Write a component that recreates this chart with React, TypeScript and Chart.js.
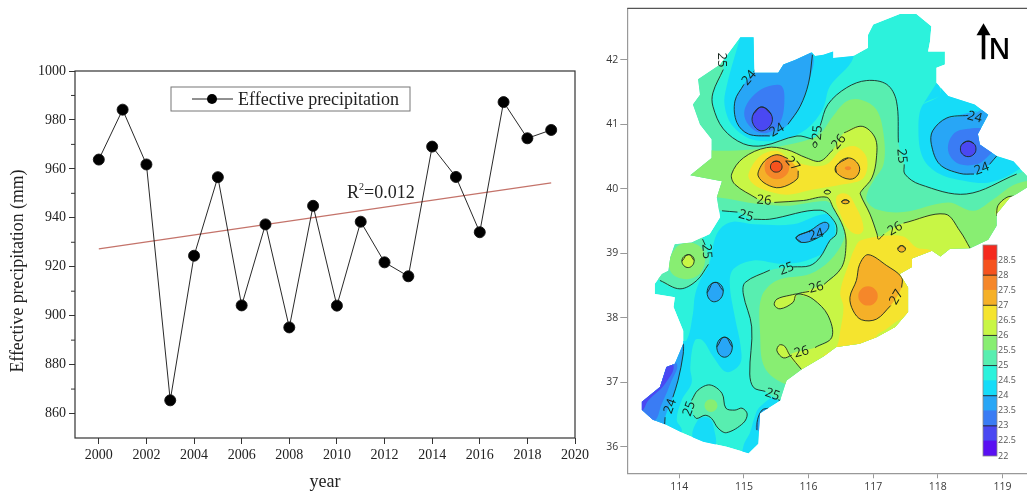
import React, { useEffect, useRef } from "react";
import { Chart, registerables } from "chart.js";

Chart.register(...registerables);

type P = [number, number];

const SERIF = '"Liberation Serif", serif';
const SANS = '"Open Sans", sans-serif';

// ---------- time series ----------
const years = [2000, 2001, 2002, 2003, 2004, 2005, 2006, 2007, 2008, 2009, 2010, 2011, 2012, 2013, 2014, 2015, 2016, 2017, 2018, 2019];
const precipitation = [963.8, 984.2, 961.8, 865.4, 924.5, 956.6, 904.2, 937.3, 895.2, 944.9, 904.1, 938.4, 921.8, 916.1, 969.1, 956.7, 934.1, 987.3, 972.5, 975.9];
const trendYears = [2000, 2019];
const trendValues = [927.3, 954.3];
const yearTicks = [2000, 2002, 2004, 2006, 2008, 2010, 2012, 2014, 2016, 2018, 2020];
const precipTicks = [860, 880, 900, 920, 940, 960, 980, 1000];
const precipMinor = [870, 890, 910, 930, 950, 970, 990];

// ---------- map axes ----------
const lonTicks = [114, 115, 116, 117, 118, 119];
const latTicks = [36, 37, 38, 39, 40, 41, 42];

// ---------- colour scale ----------
const levels = [22, 22.5, 23, 23.5, 24, 24.5, 25, 25.5, 26, 26.5, 27, 27.5, 28, 28.5];
const levelColors = ["#5a10f2", "#4a48f2", "#3a7cf4", "#28a6f6", "#16dcf8", "#2cf2dc", "#58eeb0", "#88ee72", "#c8f645", "#f5e42e", "#f5b028", "#f5872a", "#f5521e", "#f52a1e"];
const contourLevels = [23, 24, 25, 26, 27, 28];

// ---------- region boundary (lon, lat) ----------
const outline: P[] = [[114.94,42.35],[115.15,42.35],[115.16,41.80],[115.53,41.80],[115.61,41.93],[115.79,42.00],[116.05,42.12],[116.10,42.06],[116.23,42.08],[116.38,42.13],[116.38,42.03],[116.69,42.06],[116.92,42.19],[116.92,42.39],[117.00,42.55],[117.41,42.71],[117.67,42.71],[117.90,42.52],[117.88,42.29],[117.85,42.13],[118.11,42.13],[118.11,41.93],[117.98,41.88],[117.98,41.64],[118.16,41.44],[118.57,41.31],[118.78,41.15],[118.62,40.85],[118.65,40.69],[118.91,40.51],[119.17,40.43],[119.38,40.20],[119.38,40.02],[119.22,39.92],[119.12,39.87],[118.91,39.61],[118.91,39.43],[118.78,39.21],[118.50,39.08],[118.19,39.07],[118.04,38.95],[117.91,39.04],[117.78,38.99],[117.60,38.92],[117.60,38.79],[117.41,38.68],[117.54,38.47],[117.54,38.09],[117.34,37.86],[117.05,37.70],[116.79,37.60],[116.43,37.55],[116.23,37.40],[115.89,37.20],[115.66,37.03],[115.56,36.72],[115.25,36.52],[115.22,36.05],[115.07,35.90],[114.73,36.0],[114.37,36.08],[114.06,36.21],[113.78,36.35],[113.59,36.42],[113.42,36.57],[113.42,36.70],[113.70,36.93],[113.80,37.24],[113.93,37.29],[114.06,37.60],[114.06,37.80],[113.91,38.17],[113.93,38.32],[113.62,38.37],[113.62,38.53],[113.73,38.68],[113.83,38.73],[113.86,38.94],[113.93,39.14],[114.19,39.17],[114.47,39.30],[114.63,39.56],[114.58,39.87],[114.66,40.12],[114.17,40.21],[114.50,40.48],[114.50,40.77],[114.32,41.0],[114.21,41.31],[114.32,41.46],[114.29,41.70],[114.63,41.93]];

// ---------- filled contour bands (lon, lat) ----------
const bandCyanNW: P[] = [[115.0,42.5],[114.94,42.34],[114.71,41.49],[114.71,41.24],[114.83,40.97],[115.145,40.76],[115.61,40.77],[115.97,40.93],[116.22,41.24],[116.33,41.59],[116.69,42.03],[116.59,42.39],[115.66,42.60]];
const bandCyanNE: P[] = [[118.03,41.46],[117.77,41.31],[117.70,40.95],[117.77,40.48],[118.03,40.23],[118.44,40.12],[118.80,40.10],[119.22,40.28],[119.52,40.59],[119.27,41.36],[118.50,41.72],[118.03,41.72]];
const bandCyanMid: P[] = [[114.78,39.48],[115.15,39.45],[115.76,39.45],[116.28,39.61],[116.41,39.40],[116.33,39.09],[115.97,38.89],[115.56,38.84],[115.15,38.89],[114.84,38.76],[114.78,38.53],[114.86,38.01],[114.95,37.55],[114.94,37.29],[114.73,37.16],[114.53,37.39],[114.36,37.65],[114.24,37.65],[114.17,37.24],[114.19,36.99],[114.04,36.73],[113.96,36.42],[114.04,36.25],[113.9,36.0],[113.50,36.10],[113.60,37.13],[113.96,37.65],[114.11,37.65],[114.21,38.06],[114.24,38.34],[114.32,38.58],[114.46,38.83],[114.58,39.30]];
const bandCyanS: P[] = [[114.99,36.0],[115.09,36.21],[115.17,36.47],[115.25,36.62],[115.51,36.77],[115.76,36.51],[115.56,35.85],[115.0,35.79]];
const bandCyanPocket: P[] = [[114.22,36.11],[114.29,36.42],[114.45,36.45],[114.53,36.31],[114.54,36.0]];

const c24NWa: P[] = [[116.06,42.08],[116.0,41.64],[115.87,41.28],[115.68,41.0]];
const c24NWb: P[] = [[115.40,40.82],[115.07,40.85],[114.89,41.03],[114.86,41.36],[115.0,41.62]];
const c24NWc: P[] = [[115.15,41.81],[115.2,41.9]];
const bandBlueNW: P[] = [...c24NWa, ...c24NWb, [115.15,41.81],[115.30,41.93],[115.66,42.29]];
const band23NW: P[] = [[115.585,41.59],[115.625,41.335],[115.56,41.03],[115.37,40.87],[115.17,40.90],[115.02,41.08],[115.02,41.26],[115.17,41.47],[115.38,41.59]];
const c23NW: P[] = [[115.275,41.27],[115.42,41.16],[115.42,41.0],[115.275,40.90],[115.145,41.0],[115.145,41.16]];

const c24NEa: P[] = [[118.47,41.14],[118.14,41.10],[117.92,40.90],[117.90,40.69],[118.03,40.38],[118.34,40.24],[118.56,40.23]];
const c24NEb: P[] = [[118.80,40.38],[118.92,40.52]];
const bandBlueNE: P[] = [...c24NEa, ...c24NEb, [119.27,40.74],[119.01,41.15],[118.70,41.23]];
const band23NE: P[] = [[118.44,40.93],[118.26,40.87],[118.16,40.69],[118.19,40.51],[118.34,40.38],[118.60,40.38],[118.75,40.48],[118.91,40.69],[118.75,40.92]];
const c23NE: P[] = [[118.47,40.74],[118.56,40.70],[118.59,40.62],[118.56,40.54],[118.47,40.50],[118.38,40.54],[118.35,40.62],[118.38,40.70]];

const c24Bar: P[] = [[115.81,39.25],[116.02,39.35],[116.23,39.48],[116.31,39.45],[116.28,39.35],[116.10,39.22],[115.89,39.17]];
const c24OvalA: P[] = [[114.55,38.55],[114.68,38.42],[114.55,38.25],[114.43,38.39]];
const c24OvalB: P[] = [[114.70,37.70],[114.82,37.55],[114.70,37.39],[114.58,37.55]];
const c24SWa: P[] = [[114.06,37.60],[114.06,37.44],[113.98,37.03],[113.90,36.77]];
const c24SWb: P[] = [[113.78,36.46],[113.77,36.32]];
const bandBlueSW: P[] = [...c24SWa, ...c24SWb, [113.39,36.31],[113.29,36.88],[113.75,37.65]];
const band23SW: P[] = [[113.96,37.29],[113.86,36.98],[113.73,36.67],[113.60,36.39],[113.34,36.41],[113.29,36.82],[113.70,37.34]];
const band225SW: P[] = [[113.91,37.26],[113.78,36.98],[113.52,36.72],[113.42,36.57],[113.29,36.72],[113.70,37.29]];
const c24South: P[] = [[115.20,36.26],[115.21,36.42],[115.28,36.57],[115.38,36.60]];
const bandBlueSouth: P[] = [...c24South, [115.6,36.57],[115.5,36.2]];

const c25a: P[] = [[114.68,41.85],[114.52,41.49],[114.52,41.28],[114.68,40.93],[114.99,40.70],[115.30,40.67],[115.82,40.82],[116.07,40.77]];
const c25b: P[] = [[116.18,40.98],[116.30,41.31],[116.59,41.57],[116.90,41.68],[117.21,41.62],[117.36,41.36],[117.39,40.72]];
const c25c: P[] = [[117.48,40.38],[117.49,40.23],[117.72,40.07],[118.44,39.92],[119.22,40.23]];
const c25d: P[] = [[114.66,39.66],[114.90,39.64]];
const c25e: P[] = [[115.15,39.53],[115.40,39.53],[116.18,39.67],[116.41,39.48],[116.43,39.30],[116.33,39.20],[116.18,38.94],[116.02,38.81],[115.76,38.79]];
const c25f: P[] = [[115.40,38.74],[115.02,38.55],[114.99,38.37],[115.12,37.86],[115.09,37.13],[115.15,36.92],[115.33,36.86]];
const c25g: P[] = [[115.53,36.73],[115.56,36.72]];
const band25: P[] = [[114.60,42.29], ...c25a, ...c25b, ...c25c, [119.78,40.33],[119.78,38.99],[119.78,35.59],[115.56,35.59], [...c25g[1]] as P, [...c25g[0]] as P, ...[...c25f].reverse(), ...[...c25e].reverse(), [115.03,39.58], ...[...c25d].reverse(), [114.11,39.71],[113.60,40.33],[113.60,41.88]];

const c25Wa: P[] = [[113.70,38.58],[114.01,38.45],[114.27,38.58],[114.45,38.83]];
const c25Wb: P[] = [[114.40,39.13],[114.36,39.22]];
const band25W: P[] = [...c25Wa, [114.44,39.0],[114.36,39.22],[114.3,39.6],[113.6,39.5],[113.3,38.9]];
const band255W: P[] = [[114.14,39.17],[114.37,39.04],[114.35,38.73],[114.11,38.60],[113.86,38.73],[113.91,39.04]];
const c26W: P[] = [[114.14,38.98],[114.23,38.89],[114.14,38.78],[114.04,38.88]];

const c25SW: P[] = [[114.19,36.72],[114.29,36.88],[114.475,36.96],[114.66,36.83],[114.72,36.60],[114.86,36.57],[114.97,36.60],[115.05,36.51],[114.99,36.37],[114.73,36.22],[114.60,36.29],[114.50,36.44],[114.40,36.49],[114.27,36.44],[114.22,36.49]];
const spot255SW: P[] = [[114.49,36.74],[114.59,36.64],[114.49,36.54],[114.39,36.64]];
const spotTeal: P[] = [[118.81,39.51],[118.90,39.43],[118.81,39.35],[118.72,39.43]];

const band255: P[] = [[113.86,40.59],[114.63,40.59],[115.15,40.61],[115.56,40.66],[116.02,40.77],[116.18,40.85],[116.38,41.13],[116.59,41.36],[116.82,41.38],[117.05,41.23],[117.16,40.85],[117.16,40.38],[117.0,40.12],[116.92,39.97],[116.90,39.82],[117.06,39.68],[117.47,39.64],[118.16,39.79],[118.55,39.66],[118.86,39.84],[119.22,40.08],[119.6,40.08],[119.6,39.2],[117.72,37.65],[115.89,37.03],[115.63,36.98],[115.32,37.23],[115.25,37.75],[115.27,38.32],[115.51,38.58],[116.02,38.68],[116.33,38.89],[116.54,39.20],[116.54,39.40],[116.38,39.71],[116.28,39.81],[115.71,39.74],[115.25,39.76],[114.58,39.87],[113.86,39.92]];

const c26a: P[] = [[115.47,39.79],[115.92,39.82],[116.28,39.87],[116.38,39.71],[116.54,39.40],[116.58,39.14],[116.51,38.78],[116.24,38.52]];
const c26b: P[] = [[116.01,38.41],[115.81,38.36],[115.76,38.24],[115.56,38.14],[115.47,38.20],[115.51,38.29],[115.71,38.35],[115.87,38.37],[116.07,38.29],[116.30,38.04],[116.36,37.70],[116.10,37.54]];
const c26c: P[] = [[115.74,37.42],[115.61,37.38],[115.51,37.49],[115.55,37.58],[115.63,37.56],[115.71,37.42],[115.89,37.20]];
const c26d: P[] = [[115.20,39.85],[114.86,40.07],[114.81,40.23],[114.99,40.48],[115.35,40.64],[115.66,40.61],[115.97,40.48],[116.18,40.43],[116.38,40.61]];
const c26e: P[] = [[116.55,40.87],[116.83,40.97],[117.03,40.79],[117.05,40.48],[116.98,40.17],[116.82,39.97],[116.80,39.92],[116.95,39.61],[117.06,39.30],[117.08,39.22],[117.17,39.30]];
const c26f: P[] = [[117.47,39.47],[118.11,39.61],[118.34,39.35],[118.50,39.08]];
const c26g: P[] = [[118.91,39.58],[118.93,39.74],[119.07,39.87],[119.2,39.89]];
const band26: P[] = [...c26d, ...c26e, ...c26f, [118.55,38.78],[117.72,37.65],[115.97,37.03],[115.89,37.20],[115.71,37.42],[116.10,37.54],[116.36,37.70],[116.30,38.04],[116.07,38.29],[115.87,38.37],[116.24,38.52],[116.51,38.78],[116.58,39.14],[116.54,39.40],[116.38,39.71],[116.28,39.87],[115.92,39.82],[115.47,39.79]];
const band26LoopA: P[] = [[115.81,38.36],[115.76,38.24],[115.56,38.14],[115.47,38.20],[115.51,38.29],[115.71,38.35]];
const band26LoopB: P[] = [[115.51,37.49],[115.55,37.58],[115.63,37.56],[115.71,37.42],[115.61,37.38]];
const band26E: P[] = [...c26g, [119.6,39.9],[119.3,39.2]];
const band26Patch: P[] = [[117.05,37.71],[117.21,37.83],[117.39,37.96],[117.52,38.01],[117.36,37.70],[117.16,37.65]];
const ringA: P[] = [[116.10,40.73],[116.13,40.69],[116.10,40.64],[116.07,40.69]];
const ringB: P[] = [[116.29,39.98],[116.34,39.95],[116.29,39.92],[116.24,39.95]];

const band265N: P[] = [[115.07,40.23],[115.25,40.51],[115.51,40.59],[115.71,40.46],[116.02,40.36],[116.28,40.38],[116.51,40.61],[116.72,40.66],[116.90,40.48],[116.85,40.17],[116.54,40.07],[116.07,39.99],[115.66,39.91],[115.30,39.99],[115.12,40.10]];
const band265Stripe: P[] = [[116.43,39.87],[116.59,39.92],[116.74,39.71],[116.85,39.40],[116.79,39.30],[116.64,39.35],[116.49,39.61]];
const band265SE: P[] = [[116.72,39.09],[116.80,39.20],[117.16,39.27],[117.47,39.26],[117.67,39.09],[117.91,39.04],[118.05,38.85],[117.72,37.65],[117.10,37.49],[116.38,37.42],[116.23,37.42],[116.43,37.55],[116.49,37.80],[116.54,38.16],[116.49,38.40],[116.64,38.89]];

const c27Na: P[] = [[115.84,40.28],[115.82,40.15],[115.56,40.02],[115.35,40.07],[115.22,40.20],[115.25,40.33],[115.35,40.46],[115.51,40.53],[115.68,40.47]];
const band275N: P[] = [[115.51,40.53],[115.65,40.47],[115.70,40.34],[115.65,40.21],[115.51,40.15],[115.37,40.21],[115.32,40.34],[115.37,40.47]];
const c28N: P[] = [[115.50,40.43],[115.56,40.41],[115.59,40.34],[115.56,40.28],[115.50,40.26],[115.44,40.28],[115.41,40.34],[115.44,40.41]];
const c27B: P[] = [[116.43,40.36],[116.61,40.48],[116.77,40.38],[116.77,40.23],[116.64,40.15],[116.43,40.25]];
const spot275B: P[] = [[116.61,40.35],[116.66,40.32],[116.61,40.29],[116.56,40.32]];
const c27C: P[] = [[117.44,39.12],[117.50,39.07],[117.44,39.02],[117.38,39.07]];
const c27D: P[] = [[116.57,39.83],[116.63,39.80],[116.57,39.77],[116.51,39.80]];
const c27SEa: P[] = [[117.27,38.19],[117.05,37.98],[116.82,37.97],[116.69,38.11],[116.64,38.32],[116.74,38.58],[116.79,38.83],[116.92,38.98],[117.21,38.81],[117.44,38.63],[117.44,38.47]];
const band275SE: P[] = [[116.92,38.49],[117.03,38.44],[117.07,38.34],[117.03,38.24],[116.92,38.19],[116.81,38.24],[116.77,38.34],[116.81,38.44]];

const fills: [P[], number][] = [
  [bandCyanNW, 4], [bandCyanNE, 4], [bandCyanMid, 4], [bandCyanS, 4], [bandCyanPocket, 4],
  [bandBlueNW, 3], [band23NW, 2], [c23NW, 1],
  [bandBlueNE, 3], [band23NE, 2], [c23NE, 1],
  [c24Bar, 3], [c24OvalA, 3], [c24OvalB, 3],
  [bandBlueSW, 3], [band23SW, 2], [band225SW, 1], [bandBlueSouth, 3],
  [band25, 6], [spotTeal, 5],
  [band25W, 6], [band255W, 7], [c26W, 8],
  [c25SW, 6], [spot255SW, 7],
  [band255, 7], [band26, 8], [band26LoopA, 8], [band26LoopB, 8], [band26E, 8],
  [band265N, 9], [band265Stripe, 9], [band265SE, 9], [band26Patch, 8],
  [c27Na, 10], [band275N, 11], [c28N, 12],
  [c27B, 10], [spot275B, 11], [c27C, 10], [c27D, 10],
  [c27SEa, 10], [band275SE, 11],
];

const openLines: P[][] = [c24NWa, c24NWb, c24NWc, c24NEa, c24NEb, c24SWa, c24SWb, c24South, c25a, c25b, c25c, c25d, c25e, c25f, c25g, c25Wa, c25Wb, c25SW, c26a, c26b, c26c, c26d, c26e, c26f, c26g, c27Na, c27SEa];
const closedLines: P[][] = [c23NW, c23NE, c24Bar, c24OvalA, c24OvalB, c26W, c27B, c27C, c27D, c28N, ringA, ringB];

// text, lon, lat, rotation in degrees
const contourLabels: [string, number, number, number][] = [
  ["25",114.66,42.0,90],["24",115.08,41.72,-50],["24",115.51,40.91,-30],["25",116.14,40.87,-85],["26",116.47,40.73,-50],["27",115.75,40.39,50],["25",117.44,40.51,85],["24",118.57,41.11,15],["24",118.68,40.31,-20],["26",115.31,39.82,5],["25",115.03,39.58,15],["24",116.12,39.29,-15],["26",117.34,39.38,-30],["25",114.42,39.03,85],["25",115.66,38.76,-20],["26",116.12,38.47,-15],["27",117.36,38.32,-60],["26",115.89,37.47,-15],["25",115.44,36.81,20],["24",113.86,36.63,-70],["25",114.155,36.59,-70],
];

const toXY = (pts: P[]) => pts.map(([x, y]) => ({ x, y }));
// wrap the ring so the smoothed curve has no corner at its seam
const close = (pts: P[]): P[] => [pts[pts.length - 1], ...pts, pts[0], pts[1]];
// rings with few vertices need a stronger curve to read as ovals
const ringTension = (pts: P[]) => (pts.length <= 4 ? 0.55 : pts.length <= 8 ? 0.42 : 0.35);

const seriesPlugin = {
  id: "seriesFrame",
  afterDraw(chart: any) {
    const { ctx, chartArea: a, scales } = chart;
    ctx.save();
    ctx.strokeStyle = "#333";
    ctx.lineWidth = 1.2;
    ctx.strokeRect(a.left, a.top, a.right - a.left, a.bottom - a.top);
    ctx.lineWidth = 1;
    precipMinor.forEach((v) => {
      const y = scales.y.getPixelForValue(v);
      ctx.beginPath();
      ctx.moveTo(a.left, y);
      ctx.lineTo(a.left - 4, y);
      ctx.stroke();
    });
    // y axis title
    ctx.save();
    ctx.translate(18, 271);
    ctx.rotate(-Math.PI / 2);
    ctx.fillStyle = "#222";
    ctx.textAlign = "center";
    ctx.textBaseline = "middle";
    ctx.font = `17.8px ${SERIF}`;
    ctx.fillText("Effective precipitation (mm)", 0, 0);
    ctx.restore();
    // legend box
    ctx.fillStyle = "#fff";
    ctx.strokeStyle = "#777";
    ctx.fillRect(171, 87, 239, 24);
    ctx.strokeRect(171, 87, 239, 24);
    ctx.strokeStyle = "#222";
    ctx.beginPath();
    ctx.moveTo(192, 99);
    ctx.lineTo(233, 99);
    ctx.stroke();
    ctx.fillStyle = "#000";
    ctx.beginPath();
    ctx.arc(212, 99, 5, 0, Math.PI * 2);
    ctx.fill();
    ctx.fillStyle = "#222";
    ctx.textBaseline = "alphabetic";
    ctx.font = `18px ${SERIF}`;
    ctx.fillText(chart.data.datasets[0].label, 238, 105);
    // R squared
    ctx.fillText("R", 347, 198);
    ctx.fillText("=0.012", 364, 198);
    ctx.font = `10px ${SERIF}`;
    ctx.fillText("2", 359, 190);
    ctx.restore();
  },
};

const mapPlugin = {
  id: "mapClip",
  beforeDatasetsDraw(chart: any) {
    const { ctx, scales } = chart;
    ctx.save();
    ctx.beginPath();
    outline.forEach(([lon, lat], i) => {
      const x = scales.x.getPixelForValue(lon);
      const y = scales.y.getPixelForValue(lat);
      if (i === 0) ctx.moveTo(x, y);
      else ctx.lineTo(x, y);
    });
    ctx.closePath();
    ctx.clip();
  },
  afterDatasetsDraw(chart: any) {
    chart.ctx.restore();
  },
  afterDraw(chart: any) {
    const { ctx, chartArea: a, scales } = chart;
    ctx.save();
    ctx.strokeStyle = "#555";
    ctx.lineWidth = 1.2;
    ctx.beginPath();
    ctx.moveTo(a.left, a.top);
    ctx.lineTo(a.right, a.top);
    ctx.stroke();
    ctx.fillStyle = "#14221a";
    ctx.textAlign = "center";
    ctx.textBaseline = "middle";
    ctx.font = `13px ${SANS}`;
    contourLabels.forEach(([t, lon, lat, rot]) => {
      ctx.save();
      ctx.translate(scales.x.getPixelForValue(lon), scales.y.getPixelForValue(lat));
      ctx.rotate((rot * Math.PI) / 180);
      ctx.fillText(t, 0, 0);
      ctx.restore();
    });
    // north arrow
    const ax = a.right - 43.5;
    ctx.fillStyle = "#000";
    ctx.strokeStyle = "#000";
    ctx.lineWidth = 3.6;
    ctx.beginPath();
    ctx.moveTo(ax, a.top + 23);
    ctx.lineTo(ax, a.top + 51);
    ctx.stroke();
    ctx.beginPath();
    ctx.moveTo(ax, a.top + 15);
    ctx.lineTo(ax + 7, a.top + 27);
    ctx.lineTo(ax - 7, a.top + 27);
    ctx.closePath();
    ctx.fill();
    ctx.textAlign = "left";
    ctx.textBaseline = "alphabetic";
    ctx.font = `600 28px ${SANS}`;
    ctx.fillText("N", ax + 5, a.top + 51);
    ctx.restore();
  },
};

const barPlugin = {
  id: "barFrame",
  afterDatasetsDraw(chart: any) {
    const { ctx, chartArea: a, scales } = chart;
    ctx.save();
    ctx.strokeStyle = "#888";
    ctx.lineWidth = 0.8;
    ctx.strokeRect(a.left, a.top, a.right - a.left, a.bottom - a.top);
    ctx.strokeStyle = "#222";
    ctx.lineWidth = 0.9;
    contourLevels.forEach((v) => {
      const y = scales.y.getPixelForValue(v);
      ctx.beginPath();
      ctx.moveTo(a.left, y);
      ctx.lineTo(a.right, y);
      ctx.stroke();
    });
    ctx.restore();
  },
};

export default function App() {
  const seriesRef = useRef<HTMLCanvasElement>(null);
  const mapRef = useRef<HTMLCanvasElement>(null);
  const barRef = useRef<HTMLCanvasElement>(null);

  useEffect(() => {
    const base = { responsive: false, animation: false as const, events: [] as any[] };

    const series = new Chart(seriesRef.current!, {
      type: "scatter",
      data: {
        datasets: [
          {
            label: "Effective precipitation",
            data: years.map((x, i) => ({ x, y: precipitation[i] })),
            showLine: true,
            borderColor: "#111",
            borderWidth: 0.9,
            backgroundColor: "#000",
            pointRadius: 5.5,
            order: 0,
          },
          {
            label: "Trend",
            data: trendYears.map((x, i) => ({ x, y: trendValues[i] })),
            showLine: true,
            borderColor: "#c4736a",
            borderWidth: 1.2,
            pointRadius: 0,
            order: 1,
          },
        ],
      },
      options: {
        ...base,
        layout: { padding: { top: 71, right: 25, left: 0, bottom: 0 } },
        plugins: { legend: { display: false }, tooltip: { enabled: false } },
        scales: {
          x: {
            type: "linear",
            min: 1999,
            max: 2020,
            afterFit: (s: any) => { s.height = 58; },
            afterBuildTicks: (s: any) => { s.ticks = yearTicks.map((value) => ({ value })); },
            grid: { drawOnChartArea: false, tickLength: 6, tickColor: "#333" },
            border: { display: false },
            ticks: { color: "#222", maxRotation: 0, padding: 3, font: { family: SERIF, size: 14 }, callback: (v: any) => String(v) },
            title: { display: true, text: "year", color: "#222", font: { family: SERIF, size: 18 }, padding: { top: 0, bottom: 3 } },
          },
          y: {
            min: 850,
            max: 1000,
            afterFit: (s: any) => { s.width = 75; },
            afterBuildTicks: (s: any) => { s.ticks = precipTicks.map((value) => ({ value })); },
            grid: { drawOnChartArea: false, tickLength: 6, tickColor: "#333" },
            border: { display: false },
            ticks: { color: "#222", padding: 3, font: { family: SERIF, size: 14 }, callback: (v: any) => String(v) },
          },
        },
      },
      plugins: [seriesPlugin],
    } as any);

    const baseFill = {
      data: toXY([...outline, outline[0]]),
      showLine: true, fill: "shape", backgroundColor: levelColors[5], borderWidth: 0, pointRadius: 0, tension: 0, order: 0,
    };
    const fillSets = fills.map(([pts, level], i) => ({
      data: toXY(close(pts)),
      showLine: true, fill: "shape", backgroundColor: levelColors[level], borderWidth: 0, pointRadius: 0, tension: ringTension(pts), order: -1 - i,
    }));
    const openSets = openLines.map((pts, i) => ({
      data: toXY(pts),
      showLine: true, fill: false, borderColor: "#1a2a22", borderWidth: 0.9, pointRadius: 0, tension: 0.35, order: -1000 - i,
    }));
    const closedSets = closedLines.map((pts, i) => ({
      data: toXY(close(pts)),
      showLine: true, fill: false, borderColor: "#1a2a22", borderWidth: 0.9, pointRadius: 0, tension: ringTension(pts), order: -2000 - i,
    }));

    const map = new Chart(mapRef.current!, {
      type: "scatter",
      data: { datasets: [baseFill, ...fillSets, ...openSets, ...closedSets] },
      options: {
        ...base,
        layout: { padding: { top: 7.3, right: 0, left: 0, bottom: 0 } },
        plugins: { legend: { display: false }, tooltip: { enabled: false } },
        scales: {
          x: {
            type: "linear",
            min: 113.195,
            max: 119.38,
            afterFit: (s: any) => { s.height = 22.7; },
            afterBuildTicks: (s: any) => { s.ticks = lonTicks.map((value) => ({ value })); },
            grid: { drawOnChartArea: false, tickLength: 5, tickColor: "#999" },
            border: { display: true, color: "#999", width: 1.2 },
            ticks: { color: "#3a3a3a", maxRotation: 0, padding: 2, font: { family: SANS, size: 10.5 }, callback: (v: any) => String(v) },
          },
          y: {
            min: 35.59,
            max: 42.8,
            afterFit: (s: any) => { s.width = 35.3; },
            afterBuildTicks: (s: any) => { s.ticks = latTicks.map((value) => ({ value })); },
            grid: { drawOnChartArea: false, tickLength: 7, tickColor: "#999" },
            border: { display: true, color: "#999", width: 1.2 },
            ticks: { color: "#3a3a3a", padding: 2, font: { family: SANS, size: 10.5 }, callback: (v: any) => String(v) },
          },
        },
      },
      plugins: [mapPlugin],
    } as any);

    const bar = new Chart(barRef.current!, {
      type: "bar",
      data: {
        labels: ["level"],
        datasets: levels.map((lv, i) => ({
          data: [[lv, lv + 0.5]],
          backgroundColor: levelColors[i],
          borderWidth: 0,
          barPercentage: 1,
          categoryPercentage: 1,
          grouped: false,
        })),
      },
      options: {
        ...base,
        layout: { padding: { top: 10, bottom: 14, left: 8, right: 0 } },
        plugins: { legend: { display: false }, tooltip: { enabled: false } },
        scales: {
          x: { display: false },
          y: {
            position: "right",
            min: 22,
            max: 29,
            afterFit: (s: any) => { s.width = 30; },
            afterBuildTicks: (s: any) => { s.ticks = levels.map((value) => ({ value })); },
            grid: { display: false, drawTicks: false, tickLength: 0 },
            border: { display: false },
            ticks: { color: "#555", padding: 1, font: { family: SANS, size: 9 }, callback: (v: any) => String(v) },
          },
        },
      },
      plugins: [barPlugin],
    } as any);

    return () => {
      series.destroy();
      map.destroy();
      bar.destroy();
    };
  }, []);

  const abs = (left: number, top: number, width: number, height: number): React.CSSProperties => ({
    position: "absolute", left, top, width, height, filter: "blur(0.5px)",
  });

  return (
    <div style={{ position: "absolute", left: 0, top: 0, width: 1027, height: 496, overflow: "hidden", background: "#fff" }}>
      <canvas ref={seriesRef} width={600} height={496} style={abs(0, 0, 600, 496)} />
      <canvas ref={mapRef} width={435} height={496} style={abs(592, 0, 435, 496)} />
      <canvas ref={barRef} width={52} height={235} style={abs(975, 235, 52, 235)} />
    </div>
  );
}
